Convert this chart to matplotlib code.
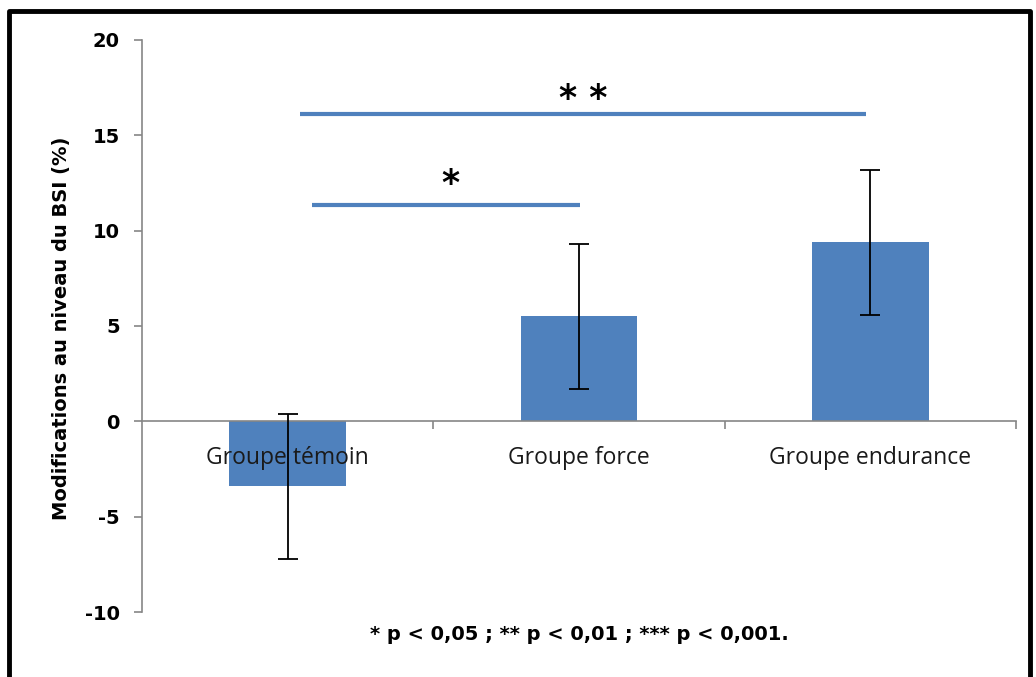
import numpy as np
import matplotlib.pyplot as plt
from matplotlib.lines import Line2D

groups = ['Groupe témoin', 'Groupe force', 'Groupe endurance']
changes = [-3.4, 5.5, 9.4]
errors = [3.8, 3.8, 3.8]
# significance brackets: (x start, x end, height, label, label x, label y)
sig_lines = [(0.084, 1.005, 11.35, '*', 0.558, 12.45),
             (0.043, 1.985, 16.1, '* *', 1.015, 16.9)]
footnote = '* p < 0,05 ; ** p < 0,01 ; *** p < 0,001.'

bar_color = '#4F81BD'
axis_color = '#868686'

fig = plt.figure(figsize=(10.36, 6.77), dpi=100)
ax = fig.add_axes([142 / 1036, 1 - 612 / 677, (1016 - 142) / 1036, (612 - 40) / 677])

x = np.arange(len(groups))
ax.bar(x, changes, width=0.4, color=bar_color, zorder=2)
ax.errorbar(x, changes, yerr=errors, fmt='none', ecolor='black',
            elinewidth=1.3, capsize=7, capthick=1.3, zorder=3)

for x0, x1, y, lab, lx, ly in sig_lines:
    ax.plot([x0, x1], [y, y], color=bar_color, lw=3, solid_capstyle='butt', zorder=2)
    ax.text(lx, ly, lab, ha='center', va='center', fontsize=25,
            family='DejaVu Sans', fontweight='bold')

for i, g in enumerate(groups):
    ax.text(i, -1.9, g, ha='center', va='center', fontsize=16.5,
            family='Open Sans', color='#1a1a1a', zorder=4)

ax.set_xlim(-0.5, 2.5)
ax.set_ylim(-10, 20)
ax.set_yticks([-10, -5, 0, 5, 10, 15, 20])
ax.set_yticklabels(['-10', '-5', '0', '5', '10', '15', '20'],
                   fontsize=14, fontweight='bold', family='DejaVu Sans')
ax.set_xticks([])
ax.set_xticks([0.5, 1.5, 2.5], minor=True)
ax.tick_params(axis='x', which='minor', direction='out', length=6,
               color=axis_color, width=1.2, labelbottom=False)
ax.tick_params(axis='y', direction='out', length=6, color=axis_color,
               width=1.2, pad=10)

for s in ['top', 'right']:
    ax.spines[s].set_visible(False)
ax.spines['bottom'].set_position(('data', 0))
ax.spines['left'].set_color(axis_color)
ax.spines['bottom'].set_color(axis_color)
ax.spines['left'].set_linewidth(1.2)
ax.spines['bottom'].set_linewidth(1.2)

fig.text(62 / 1036, 1 - 328 / 677, 'Modifications au niveau du BSI (%)',
         rotation=90, ha='center', va='center', fontsize=14,
         fontweight='bold', family='DejaVu Sans')
fig.text(579 / 1036, 1 - 634 / 677, footnote, ha='center', va='center',
         fontsize=14, fontweight='bold', family='DejaVu Sans')

# black frame around the picture (open at the bottom)
fx = [9 / 1036, 9 / 1036, 1030 / 1036, 1030 / 1036]
fy = [0, 1 - 11 / 677, 1 - 11 / 677, 0]
fig.add_artist(Line2D(fx, fy, color='black', lw=3.5, transform=fig.transFigure))

fig.savefig('out.png', dpi=100)
